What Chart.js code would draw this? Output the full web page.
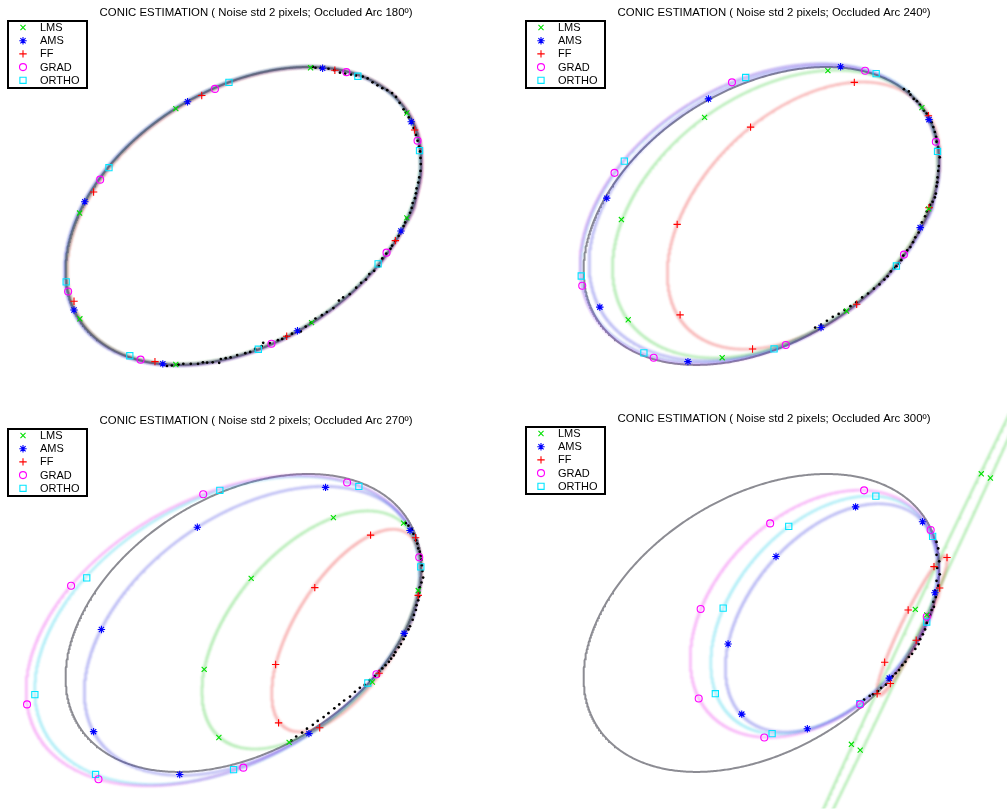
<!DOCTYPE html>
<html>
<head>
<meta charset="utf-8">
<script src="https://cdn.jsdelivr.net/npm/chart.js@4.4.0/dist/chart.umd.min.js"></script>
<style>
  html, body { margin: 0; padding: 0; background: #fff; overflow: hidden; width: 1007px; height: 811px; }
  canvas { position: absolute; }
</style>
</head>
<body>
<canvas id="arc180" width="518" height="407" style="left:0px;top:0px"></canvas>
<canvas id="arc240" width="518" height="407" style="left:518px;top:0px"></canvas>
<canvas id="arc270" width="518" height="407" style="left:0px;top:407px"></canvas>
<canvas id="arc300" width="518" height="407" style="left:518px;top:407px"></canvas>
<script>
// ---- data (pixel-like units, y grows downward) ----
const methods = ['LMS', 'AMS', 'FF', 'GRAD', 'ORTHO'];
const occludedArcs = [180, 240, 270, 300];

// true conic: [cx, cy, semi-major, semi-minor, rotation deg]
const trueConic = [243.1, 216.3, 198.7, 130.3, -32.4];

// fitted conics per method (LMS, AMS, FF, GRAD, ORTHO)
const fits180 = [
  [243.0, 215.8, 198.2, 130.0, -32.6],
  [242.4, 216.5, 198.9, 130.6, -32.3],
  [244.2, 216.4, 198.5, 129.8, -32.5],
  [243.3, 216.2, 198.8, 130.5, -32.4],
  [243.1, 216.3, 198.7, 130.3, -32.4]
];
const fits240 = [
  [257.2, 214.4, 185.5, 122.9, -36.3],
  [246.0, 213.7, 194.3, 131.2, -31.9],
  [286.2, 216.0, 165.5, 104.2, -44.1],
  [240.8, 214.1, 198.4, 133.5, -31.5],
  [241.5, 213.7, 198.7, 133.0, -31.5]
];
const fits270 = [
  [312.4, 223.5, 144.5, 81.1, -50.0],
  [252.5, 224.5, 193.0, 119.9, -35.4],
  [348.5, 224.1, 117.8, 53.1, -58.4],
  [222.5, 224.2, 217.9, 136.1, -29.2],
  [226.6, 224.0, 213.5, 134.9, -30.1]
];
const fits300 = [
  [406.2, 205.2, 330.0, 6.3, -64.9],
  [315.2, 211.1, 136.0, 84.4, -49.8],
  [397.1, 218.5, 79.0, 10.6, -64.1],
  [297.2, 206.9, 148.3, 101.1, -45.1],
  [307.3, 208.1, 141.3, 91.9, -48.8]
];

// marker positions along each fitted conic (LMS, AMS, FF, GRAD, ORTHO)
const marks180 = [
  [[174,106],[311.7,64],[410,110.5],[410,218.3],[312.7,326],[174,369],[76,322],[75.7,213.3]],
  [[186,99],[324,64.5],[414.5,119.5],[404,231.7],[298.3,334.3],[160.7,368.3],[70,313],[81,201.7]],
  [[200.5,92.5],[336.5,66.5],[418,128],[398.3,241.7],[287.3,340],[152.7,366],[70,304],[90,191.7]],
  [[214,85.7],[348.3,68.5],[421,139],[389.3,254],[271.7,347.7],[138,364],[64,294],[96.7,179]],
  [[228.3,79],[360,72.7],[423,149.2],[380.7,265.5],[258.3,353.3],[127,360],[62,284],[105.7,166.7]]
];
const marks240 = [
  [[185,115],[311,67],[407,105],[414,209],[330,314],[203,362],[107,323],[100,220]],
  [[85,198],[189,96],[324,63],[414.3,117.3],[405.3,228.3],[304,331],[168,366],[78,310]],
  [[157,225],[232,125],[338,79],[413.7,113.3],[414.3,207.7],[340.4,307],[234,353],[160,318]],
  [[60,288],[93,172],[213,79],[349,67],[421.3,140],[388.7,256],[268,349],[133,362]],
  [[59,278],[103,160],[227,74],[360.3,70],[423,150],[381,267.7],[256,353],[123,357]]
];
const marks270 = [
  [[203,264],[251,170.5],[335,108],[406.7,113.7],[421.7,183],[374.8,277],[289.8,339],[218,334]],
  [[90,328],[98,223],[196,118],[327,77],[413.3,121.3],[407.3,227],[310,330],[178,372]],
  [[276,259],[316,180],[373,126],[419,128.7],[421.7,188],[381.7,268],[321,324],[279,319]],
  [[22,300],[67,178],[202,84],[349,72],[422.7,148.7],[379,269],[243,365],[95,377]],
  [[30,290],[83,170],[219,80],[361,76],[424.3,158.7],[370.2,278],[233,367],[92,372]]
];
const marks300 = [
  [[467.7,63],[477,67.3],[400.3,202.3],[412,208],[335,341],[344,347]],
  [[209,238],[258,148],[339.3,97],[407.7,112.3],[420.3,185.3],[373.7,273],[290,325],[223,310]],
  [[432.7,149],[419.4,158.4],[393,203],[369,256.7],[361.3,289],[374.8,278.6],[401.2,234],[425.2,180.3]],
  [[181,202],[252,114],[348,80],[416,120.7],[412,210],[344,300],[246,334],[179,294]],
  [[204,201],[271,117],[360,86],[418,127.3],[412,215.3],[343.6,299.2],[254,330],[196,289]]
];

// noisy edge points on the visible arc
const dots180 = [
  [314,63],[316.7,64],[322,64.5],[330,65],[336,66.5],[341.7,69],[347,70],[353,71],[358,72],[365,73],
  [370,75],[375,79],[380,82],[385,85],[390,87],[395,90],[399,94],[402.7,100],[406.7,106.7],[409,110],
  [412,115],[415,120],[417,126],[419.3,133],[421,139],[422.5,145],[423.5,150],[424,156.7],[424.3,163],[424,170],
  [422.7,176.7],[421.7,182],[420,188],[419.3,193],[418.3,198],[416,203],[415,208],[413.3,213],[410,218.5],[408.3,223],
  [406.7,226.7],[404,232],[401.7,236.7],[398,242],[395,246.7],[393.3,250],[389,255],[385,260],[381.7,268],[376.7,272.7],
  [371.7,276],[368.3,281.7],[363.3,285],[358.3,290],[351.7,296.7],[345,300],[340.7,303.3],[335,311],[328.3,315],[323.3,318.3],
  [316.7,321.7],[312,326],[306.7,330],[301.7,335],[292.7,337.3],[287,340],[282.7,342.7],[278.3,344],[270,347],[263.3,346.7],
  [261.7,350],[255,353],[250,356],[245,357.3],[236.7,359.3],[230,361.7],[225,362.5],[220,363.3],[218.3,367.3],[211.7,366.7],
  [206,367],[201.7,366.7],[196.7,368.3],[189.3,368.3],[181.7,368.3],[176.7,369],[170,370],[165,370.5]
];
const dots240 = [
  [388.7,86],[393.7,88.3],[395.3,91.7],[398.7,96],[402,98.3],[405,102],[409,108],[412,111],[417,120],[418.7,125],
  [420.3,130],[421.5,135],[422,140],[423.5,146],[425.3,156],[424.3,165],[423.7,170],[423,176.7],[422.7,181.7],[422,186],
  [421.3,193.3],[420.3,197.3],[418,201.7],[415.3,205],[412,211.7],[410.3,216.7],[407,223],[403.7,233.3],[400.3,238.3],[398,243.3],
  [395.3,248.3],[392,251.7],[388,257],[386,261.7],[383.7,265],[381,268],[378.7,270],[375.3,273.3],[372,278.3],[368.7,281.7],
  [363.7,286.7],[358,291],[352,296],[346,300],[340,305],[334,309],[328,313],[322,317],[316,320],[310,324],
  [304,328],[298,331]
];
const dots270 = [
  [409,113.7],[411.7,116.3],[415,119.7],[416.7,124.7],[419.3,131.3],[420.7,134.7],[421.7,139.7],[423.3,143],[424.5,147],[425,151.3],
  [425.5,157],[426,163],[426.7,169.7],[425,174.7],[423.3,179.7],[423,185],[422.5,189],[421.7,193],[420,198],[419.3,203],
  [417.3,208],[416,213],[413.3,219.7],[411.7,223],[408.3,229.7],[406.7,233],[404,238],[401.7,241.3],[398.3,246.3],[396.7,249.7],
  [394,253],[391.7,256.3],[388.3,259.7],[385,263],[381.7,266.3],[377,271],[372,275],[367,280],[362,283],[357,287],
  [352,292],[346,296],[341,300],[336,304],[330,309],[325,313],[319,317],[314,321],[308,325],[303,329],
  [297,333],[292,337]
];
const dots300 = [
  [422,133],[423.7,139.7],[422,146.3],[424.7,153],[422.7,159.7],[425.3,166.3],[422,173],[423.7,178],[420.3,183],[421.3,189.7],
  [418.7,194.7],[419.3,199.7],[417,203],[415.3,208],[412,216.3],[410.3,223],[408,228],[405.3,233],[403.7,238],[400.3,243],
  [397,248],[393.7,251.3],[390.3,256.3],[387,259.7],[383.7,264.7],[380.3,268],[377,271.3],[373.7,274.7],[370.3,279.7],[365.3,283],
  [362,286.3],[357,289.7],[353.7,291.3],[348,295]
];

// ---- styling ----
const markStyle = ['crossRot', 'star', 'cross', 'circle', 'rect'];
const markColor = ['#00e000', '#0000ff', '#ff0000', '#ff00ff', '#00e5ff'];
const markRadius = [3.6, 3.7, 3.7, 3.5, 4.4];
const curveColor = [
  'rgba(0,190,0,0.28)', 'rgba(30,30,220,0.30)', 'rgba(230,0,0,0.28)',
  'rgba(230,0,230,0.28)', 'rgba(0,200,230,0.30)'
];

function conicPath(c, n) {
  const [cx, cy, a, b, deg] = c;
  const r = deg * Math.PI / 180, cr = Math.cos(r), sr = Math.sin(r);
  const pts = [];
  for (let i = 0; i <= n; i++) {
    const t = 2 * Math.PI * i / n;
    const x = a * Math.cos(t), y = b * Math.sin(t);
    pts.push({ x: cx + x * cr - y * sr, y: cy + x * sr + y * cr });
  }
  return pts;
}
const xy = arr => arr.map(([x, y]) => ({ x, y }));

function drawMark(ctx, style, x, y, r, color) {
  ctx.save();
  ctx.strokeStyle = color; ctx.lineWidth = 1.1;
  ctx.beginPath();
  const d = r * Math.SQRT1_2;
  if (style === 'crossRot' || style === 'star') {
    ctx.moveTo(x - d, y - d); ctx.lineTo(x + d, y + d);
    ctx.moveTo(x - d, y + d); ctx.lineTo(x + d, y - d);
  }
  if (style === 'cross' || style === 'star') {
    ctx.moveTo(x - r, y); ctx.lineTo(x + r, y);
    ctx.moveTo(x, y - r); ctx.lineTo(x, y + r);
  }
  if (style === 'circle') ctx.arc(x, y, r, 0, 2 * Math.PI);
  if (style === 'rect') ctx.rect(x - d, y - d, 2 * d, 2 * d);
  ctx.stroke();
  ctx.restore();
}

// soft rendering of conic curves
const softLines = {
  id: 'softLines',
  beforeDatasetDraw(chart, args) {
    const ds = chart.data.datasets[args.index];
    if (ds.soft) { chart.ctx.save(); chart.ctx.filter = 'blur(' + ds.soft + 'px)'; }
  },
  afterDatasetDraw(chart, args) {
    if (chart.data.datasets[args.index].soft) chart.ctx.restore();
  }
};

// title and boxed legend
const panelDecor = {
  id: 'panelDecor',
  afterDraw(chart, args, opts) {
    const ctx = chart.ctx;
    ctx.save();
    ctx.fillStyle = '#000';
    ctx.font = '11.4px "Liberation Sans", Arial, sans-serif';
    ctx.textAlign = 'center'; ctx.textBaseline = 'middle';
    ctx.fillText(opts.title, 256, 12.5 + opts.dy);
    const top = 21 + opts.dy;
    ctx.lineWidth = 2; ctx.strokeStyle = '#000';
    ctx.strokeRect(8, top, 79, 67);
    ctx.font = '11px "Liberation Sans", Arial, sans-serif';
    ctx.textAlign = 'left';
    methods.forEach((m, i) => {
      const y = top + 6.5 + i * 13.2;
      drawMark(ctx, markStyle[i], 23, y, markRadius[i], markColor[i]);
      ctx.fillStyle = '#000';
      ctx.fillText(m, 40, y + 0.5);
    });
    ctx.restore();
  }
};

function buildPanel(id, arc, fits, marks, dots, dy) {
  const datasets = [];
  fits.forEach((f, i) => datasets.push({
    label: methods[i] + ' conic', data: conicPath(f, 900), showLine: true, pointRadius: 0,
    borderColor: curveColor[i], borderWidth: 2.6, order: 3, soft: 0.8
  }));
  datasets.push({
    label: 'true conic', data: conicPath(trueConic, 720), showLine: true, pointRadius: 0,
    borderColor: 'rgba(70,70,80,0.62)', borderWidth: 2, order: 4, soft: 0.6
  });
  datasets.push({
    label: 'edge points', data: xy(dots), showLine: false, pointStyle: 'circle',
    pointRadius: 1.35, pointBorderWidth: 0, pointBackgroundColor: '#000', order: 1
  });
  marks.forEach((mk, i) => datasets.push({
    label: methods[i], data: xy(mk), showLine: false, pointStyle: markStyle[i],
    pointRadius: markRadius[i], pointBorderWidth: 1.1, pointBorderColor: markColor[i],
    pointBackgroundColor: 'rgba(0,0,0,0)', order: 0
  }));
  new Chart(document.getElementById(id), {
    type: 'scatter',
    data: { datasets },
    options: {
      responsive: false, animation: false, devicePixelRatio: 1,
      layout: { padding: 0 },
      scales: {
        x: { type: 'linear', min: 0, max: 518, display: false },
        y: { type: 'linear', min: 0, max: 407, reverse: true, display: false }
      },
      plugins: {
        legend: { display: false }, tooltip: { enabled: false },
        panelDecor: { title: 'CONIC ESTIMATION ( Noise std 2 pixels; Occluded Arc ' + arc + 'º)', dy }
      }
    },
    plugins: [softLines, panelDecor]
  });
}

buildPanel('arc180', occludedArcs[0], fits180, marks180, dots180, 0);
buildPanel('arc240', occludedArcs[1], fits240, marks240, dots240, 0);
buildPanel('arc270', occludedArcs[2], fits270, marks270, dots270, 1);
buildPanel('arc300', occludedArcs[3], fits300, marks300, dots300, -1);
</script>
</body>
</html>
